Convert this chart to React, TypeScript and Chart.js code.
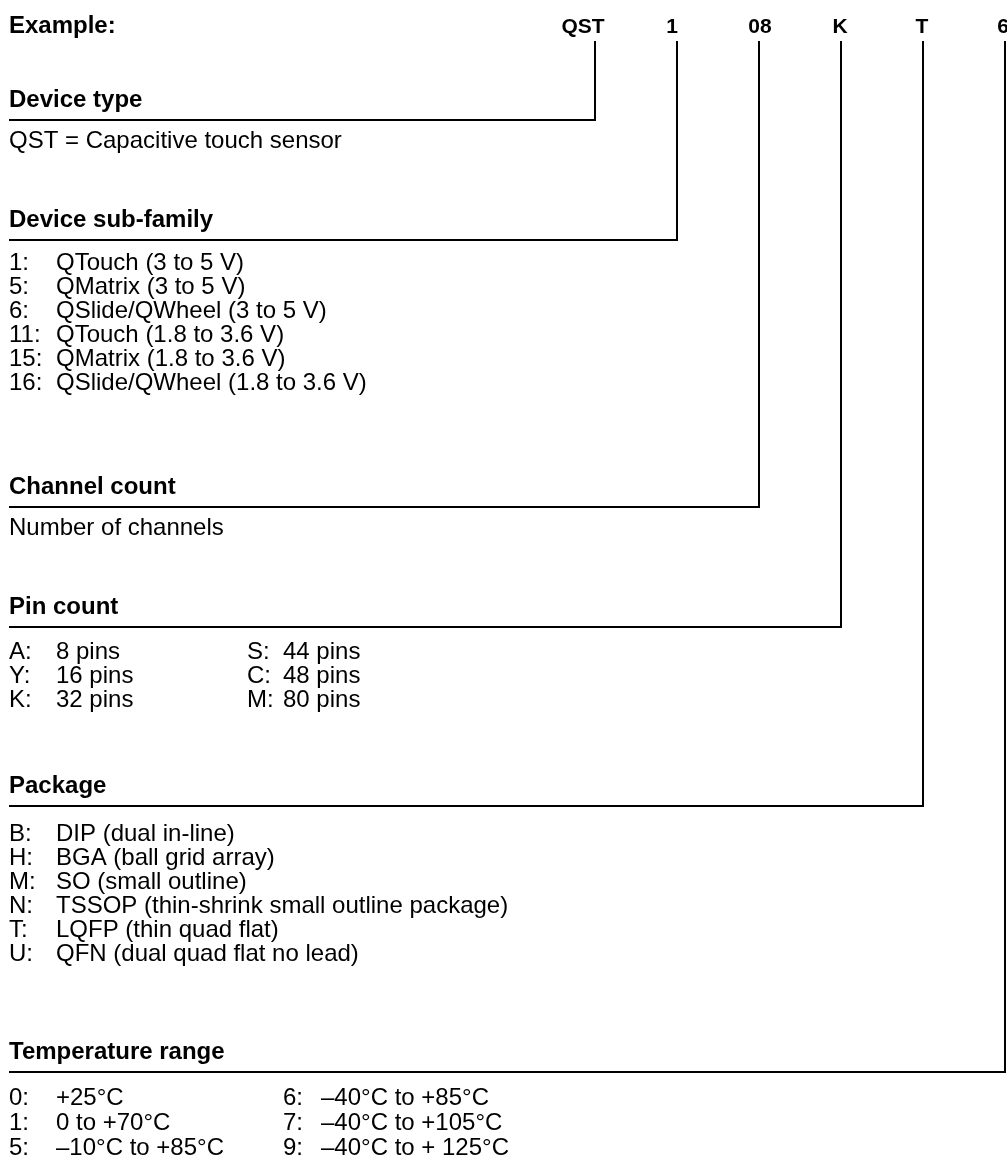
import React, { useEffect, useRef } from "react";
import { Chart, registerables } from "chart.js";

Chart.register(...registerables);

// ---------- content ----------
const exampleLabel = "Example:";
const codeParts = ["QST", "1", "08", "K", "T", "6"];
const sectionTitles = [
  "Device type",
  "Device sub-family",
  "Channel count",
  "Pin count",
  "Package",
  "Temperature range",
];
const deviceTypeItems = ["QST = Capacitive touch sensor"];
const subFamilyCodes = ["1:", "5:", "6:", "11:", "15:", "16:"];
const subFamilyNames = [
  "QTouch (3 to 5 V)",
  "QMatrix (3 to 5 V)",
  "QSlide/QWheel (3 to 5 V)",
  "QTouch (1.8 to 3.6 V)",
  "QMatrix (1.8 to 3.6 V)",
  "QSlide/QWheel (1.8 to 3.6 V)",
];
const channelCountItems = ["Number of channels"];
const pinCodesLeft = ["A:", "Y:", "K:"];
const pinValuesLeft = ["8 pins", "16 pins", "32 pins"];
const pinCodesRight = ["S:", "C:", "M:"];
const pinValuesRight = ["44 pins", "48 pins", "80 pins"];
const packageCodes = ["B:", "H:", "M:", "N:", "T:", "U:"];
const packageNames = [
  "DIP (dual in-line)",
  "BGA (ball grid array)",
  "SO (small outline)",
  "TSSOP (thin-shrink small outline package)",
  "LQFP (thin quad flat)",
  "QFN (dual quad flat no lead)",
];
const tempCodesLeft = ["0:", "1:", "5:"];
const tempValuesLeft = ["+25°C", "0 to +70°C", "\u201310°C to +85°C"];
const tempCodesRight = ["6:", "7:", "9:"];
const tempValuesRight = [
  "\u201340°C to +85°C",
  "\u201340°C to +105°C",
  "\u201340°C to + 125°C",
];

// ---------- layout ----------
const W = 1007;
const H = 1163;
const LEFT = 9;
const LINE_TOP = 41;
const TOP_BASELINE = 33;
const SECTION_LINE_Y = [120, 240, 507, 627, 806, 1072];
const FIRST_ROW_BASELINE = [148, 270, 535, 659, 841, 1105];
const ROW_STEP = [24, 24, 24, 24, 24, 25];
const CODE_LINE_X = [595, 677, 759, 841, 923, 1005];
const CODE_LABEL_X = [583, 672, 760, 840, 922, 1003];
const HEAD_OFFSET = -13;
const VALUE_X = 56;
const COL2_CODE_X = [247, 283];
const COL2_VALUE_X = [283, 321];

const FONT = '"Liberation Sans", Arial, Helvetica, sans-serif';

type TextItem = { x: number; y: number; text: string; font: string; align: CanvasTextAlign };

function buildTexts(): TextItem[] {
  const t: TextItem[] = [];
  const bold = `bold 24px ${FONT}`;
  const reg = `24px ${FONT}`;
  t.push({ x: LEFT, y: TOP_BASELINE, text: exampleLabel, font: `bold 24px ${FONT}`, align: "left" });
  codeParts.forEach((c, i) =>
    t.push({ x: CODE_LABEL_X[i], y: TOP_BASELINE, text: c, font: `bold 21px ${FONT}`, align: "center" })
  );
  sectionTitles.forEach((s, i) =>
    t.push({ x: LEFT, y: SECTION_LINE_Y[i] + HEAD_OFFSET, text: s, font: bold, align: "left" })
  );
  const row = (sec: number, r: number) => FIRST_ROW_BASELINE[sec] + r * ROW_STEP[sec];
  deviceTypeItems.forEach((s, r) => t.push({ x: LEFT, y: row(0, r), text: s, font: reg, align: "left" }));
  subFamilyCodes.forEach((c, r) => {
    t.push({ x: LEFT, y: row(1, r), text: c, font: reg, align: "left" });
    t.push({ x: VALUE_X, y: row(1, r), text: subFamilyNames[r], font: reg, align: "left" });
  });
  channelCountItems.forEach((s, r) => t.push({ x: LEFT, y: row(2, r), text: s, font: reg, align: "left" }));
  pinCodesLeft.forEach((c, r) => {
    t.push({ x: LEFT, y: row(3, r), text: c, font: reg, align: "left" });
    t.push({ x: VALUE_X, y: row(3, r), text: pinValuesLeft[r], font: reg, align: "left" });
    t.push({ x: COL2_CODE_X[0], y: row(3, r), text: pinCodesRight[r], font: reg, align: "left" });
    t.push({ x: COL2_CODE_X[1], y: row(3, r), text: pinValuesRight[r], font: reg, align: "left" });
  });
  packageCodes.forEach((c, r) => {
    t.push({ x: LEFT, y: row(4, r), text: c, font: reg, align: "left" });
    t.push({ x: VALUE_X, y: row(4, r), text: packageNames[r], font: reg, align: "left" });
  });
  tempCodesLeft.forEach((c, r) => {
    t.push({ x: LEFT, y: row(5, r), text: c, font: reg, align: "left" });
    t.push({ x: VALUE_X, y: row(5, r), text: tempValuesLeft[r], font: reg, align: "left" });
    t.push({ x: COL2_VALUE_X[0], y: row(5, r), text: tempCodesRight[r], font: reg, align: "left" });
    t.push({ x: COL2_VALUE_X[1], y: row(5, r), text: tempValuesRight[r], font: reg, align: "left" });
  });
  return t;
}

export default function App() {
  const ref = useRef<HTMLCanvasElement | null>(null);
  useEffect(() => {
    if (!ref.current) return;
    const texts = buildTexts();
    const datasets = CODE_LINE_X.map((x, i) => ({
      data: [
        { x, y: LINE_TOP },
        { x, y: SECTION_LINE_Y[i] },
        { x: LEFT, y: SECTION_LINE_Y[i] },
      ],
      showLine: true,
      borderColor: "#000",
      borderWidth: 2,
      pointRadius: 0,
      fill: false,
      tension: 0,
      borderJoinStyle: "miter" as const,
      borderCapStyle: "butt" as const,
    }));
    const textPlugin = {
      id: "diagramText",
      afterDatasetsDraw(chart: any) {
        const ctx = chart.ctx as CanvasRenderingContext2D;
        const xs = chart.scales.x;
        const ys = chart.scales.y;
        ctx.save();
        ctx.fillStyle = "#000";
        ctx.textBaseline = "alphabetic";
        texts.forEach((it) => {
          ctx.font = it.font;
          ctx.textAlign = it.align;
          ctx.fillText(it.text, xs.getPixelForValue(it.x), ys.getPixelForValue(it.y));
        });
        ctx.restore();
      },
    };
    const chart = new Chart(ref.current, {
      type: "scatter",
      data: { datasets },
      options: {
        animation: false,
        responsive: false,
        devicePixelRatio: 1,
        layout: { padding: 0 },
        plugins: { legend: { display: false }, tooltip: { enabled: false } },
        scales: {
          x: { type: "linear", min: 0, max: W, display: false },
          y: { type: "linear", min: 0, max: H, reverse: true, display: false },
        },
      },
      plugins: [textPlugin],
    });
    return () => chart.destroy();
  }, []);
  return (
    <div style={{ position: "fixed", left: 0, top: 0, width: W, height: H, background: "#fff" }}>
      <canvas ref={ref} width={W} height={H} style={{ display: "block" }} />
    </div>
  );
}
